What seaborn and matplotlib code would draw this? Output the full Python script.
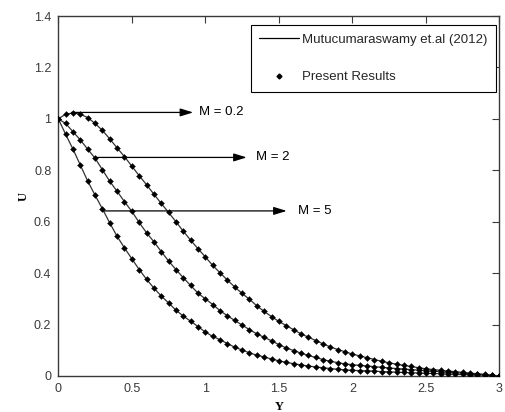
import numpy as np
import pandas as pd
import seaborn as sns
import matplotlib
matplotlib.use("Agg")
import matplotlib.pyplot as plt
from matplotlib.lines import Line2D

# ---------------- data ----------------
y_pos = [round(0.05 * i, 2) for i in range(61)]

u_m02 = [1.000, 1.018, 1.023, 1.018, 1.005, 0.982, 0.955, 0.922, 0.887, 0.853,
         0.816, 0.779, 0.744, 0.707, 0.671, 0.636, 0.600, 0.563, 0.528, 0.495,
         0.463, 0.430, 0.401, 0.373, 0.346, 0.321, 0.298, 0.273, 0.251, 0.231,
         0.212, 0.196, 0.180, 0.164, 0.151, 0.138, 0.125, 0.113, 0.103, 0.094,
         0.085, 0.078, 0.071, 0.064, 0.057, 0.051, 0.046, 0.041, 0.037, 0.032,
         0.028, 0.025, 0.022, 0.019, 0.017, 0.014, 0.011, 0.009, 0.006, 0.003,
         0.000]

u_m2 = [1.000, 0.982, 0.950, 0.918, 0.882, 0.847, 0.802, 0.757, 0.718, 0.678,
        0.640, 0.597, 0.557, 0.522, 0.484, 0.447, 0.414, 0.382, 0.352, 0.322,
        0.300, 0.278, 0.254, 0.234, 0.216, 0.198, 0.180, 0.164, 0.150, 0.137,
        0.122, 0.109, 0.099, 0.089, 0.080, 0.072, 0.064, 0.057, 0.052, 0.047,
        0.044, 0.041, 0.039, 0.036, 0.034, 0.031, 0.029, 0.027, 0.025, 0.023,
        0.021, 0.019, 0.017, 0.015, 0.013, 0.011, 0.009, 0.007, 0.005, 0.002,
        0.000]

u_m5 = [1.000, 0.940, 0.882, 0.820, 0.758, 0.703, 0.650, 0.595, 0.543, 0.498,
        0.456, 0.414, 0.376, 0.342, 0.311, 0.284, 0.256, 0.233, 0.213, 0.192,
        0.171, 0.154, 0.141, 0.126, 0.112, 0.101, 0.090, 0.081, 0.074, 0.066,
        0.059, 0.053, 0.048, 0.043, 0.039, 0.035, 0.032, 0.029, 0.026, 0.024,
        0.022, 0.021, 0.020, 0.019, 0.017, 0.016, 0.015, 0.014, 0.013, 0.012,
        0.011, 0.010, 0.009, 0.008, 0.007, 0.006, 0.005, 0.004, 0.003, 0.001,
        0.000]

m_labels = ["M = 0.2", "M = 2", "M = 5"]
legend_labels = ["Mutucumaraswamy et.al (2012)", "Present Results"]
x_ticks = [0, 0.5, 1, 1.5, 2, 2.5, 3]
x_tick_labels = ["0", "0.5", "1", "1.5", "2", "2.5", "3"]
y_ticks = [0, 0.2, 0.4, 0.6, 0.8, 1.0, 1.2, 1.4]
y_tick_labels = ["0", "0.2", "0.4", "0.6", "0.8", "1", "1.2", "1.4"]

df = pd.concat([
    pd.DataFrame({"Y": y_pos, "U": u, "M": lab})
    for u, lab in zip([u_m02, u_m2, u_m5], m_labels)
], ignore_index=True)

# ---------------- plotting ----------------
sns.set_theme(style="white")
plt.rcParams["font.family"] = ["Liberation Sans", "DejaVu Sans"]

fig = plt.figure(figsize=(5.06, 4.12), dpi=100)
ax = fig.add_axes([58.3 / 506, 1 - 376 / 412, (499.5 - 58.3) / 506, (376 - 16) / 412])

axis_col = "#3a3a3a"

sns.lineplot(data=df, x="Y", y="U", units="M", estimator=None, color="#333333",
             linewidth=0.9, ax=ax, legend=False)
sns.scatterplot(data=df, x="Y", y="U", color="black", marker="D", s=9,
                edgecolor="black", linewidth=0.3, ax=ax, legend=False, zorder=3)

ax.set_xlim(0, 3)
ax.set_ylim(0, 1.4)
ax.set_xticks(x_ticks)
ax.set_xticklabels(x_tick_labels)
ax.set_yticks(y_ticks)
ax.set_yticklabels(y_tick_labels)
ax.tick_params(direction="in", length=5, width=0.8, colors=axis_col,
               labelsize=9, top=True, right=True, pad=5)
for s in ax.spines.values():
    s.set_color(axis_col)
    s.set_linewidth(1.0)
    s.set_visible(True)

ax.set_xlabel("Y", fontfamily="Liberation Serif", fontweight="bold",
              fontsize=9, color="black", labelpad=4)
ax.set_ylabel("U", fontfamily="Liberation Serif", fontweight="bold",
              fontsize=9, color="black", labelpad=3)

# annotations (arrows)
arrow_specs = [
    ((0.09, 1.025), (0.917, 1.025), (0.958, 1.025)),
    ((0.25, 0.850), (1.281, 0.850), (1.344, 0.850)),
    ((0.306, 0.642), (1.553, 0.642), (1.632, 0.642)),
]
for lab, (start, tip, txt) in zip(m_labels, arrow_specs):
    ax.annotate("", xy=tip, xytext=start,
                arrowprops=dict(arrowstyle="-|>,head_length=0.65,head_width=0.2",
                                color="black", lw=0.9, shrinkA=0, shrinkB=0))
    ax.text(txt[0], txt[1], lab, fontsize=9.5, va="center", ha="left", color="black")

handles = [
    Line2D([], [], color="black", lw=0.9),
    Line2D([], [], color="black", marker="D", markersize=2.5, lw=0),
]
leg = ax.legend(handles, legend_labels, loc="upper right",
                bbox_to_anchor=(0.993, 0.975), borderaxespad=0,
                fontsize=9.5, frameon=True, fancybox=False, framealpha=1,
                edgecolor="black", handlelength=3.0, handletextpad=0.25,
                labelspacing=1.9, borderpad=0.66)
leg.get_frame().set_linewidth(0.8)

fig.savefig("out.png", dpi=100)
